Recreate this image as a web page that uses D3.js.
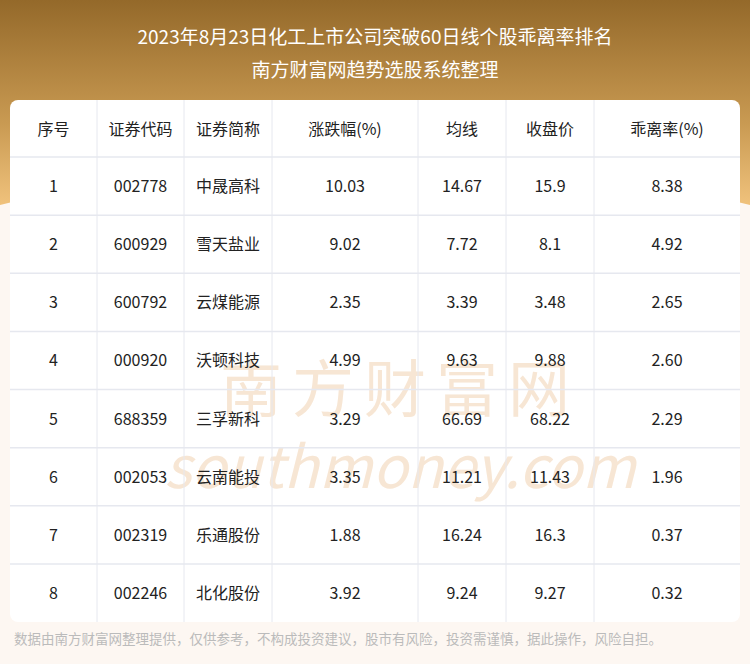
<!DOCTYPE html>
<html><head><meta charset="utf-8">
<script src="https://cdn.jsdelivr.net/npm/d3@7"></script>
<style>body{margin:0;background:#fdf7f2;}svg{display:block;font-family:"Noto Sans CJK SC","Noto Sans",sans-serif;}</style>
</head><body>
<svg id="chart"></svg>
<script>
var headers = ["序号", "证券代码", "证券简称", "涨跌幅(%)", "均线", "收盘价", "乖离率(%)"];
var ranks = ["1", "2", "3", "4", "5", "6", "7", "8"];
var codes = ["002778", "600929", "600792", "000920", "688359", "002053", "002319", "002246"];
var names = ["中晟高科", "雪天盐业", "云煤能源", "沃顿科技", "三孚新科", "云南能投", "乐通股份", "北化股份"];
var changes = ["10.03", "9.02", "2.35", "4.99", "3.29", "3.35", "1.88", "3.92"];
var avgLine = ["14.67", "7.72", "3.39", "9.63", "66.69", "11.21", "16.24", "9.24"];
var closes = ["15.9", "8.1", "3.48", "9.88", "68.22", "11.43", "16.3", "9.27"];
var bias = ["8.38", "4.92", "2.65", "2.60", "2.29", "1.96", "0.37", "0.32"];

var width = 750, height = 664;
var colEdges = [10, 97, 184, 272, 418, 506, 594, 740];
var tableTop = 100, headH = 57, tableBottom = 622;

var svg = d3.select("#chart").attr("width", width).attr("height", height);
var defs = svg.append("defs");
var grad = defs.append("linearGradient").attr("id", "bg").attr("x1", 0).attr("y1", 0).attr("x2", 0).attr("y2", 1);
grad.append("stop").attr("offset", "0%").attr("stop-color", "#94692a");
grad.append("stop").attr("offset", "60%").attr("stop-color", "#c99a52");
grad.append("stop").attr("offset", "100%").attr("stop-color", "#f0c27c");

svg.append("rect").attr("width", width).attr("height", height).attr("fill", "#fdf7f2");
svg.append("path")
    .attr("d", "M0,0 H750 V205 Q375,110 0,205 Z")
    .attr("fill", "url(#bg)");

svg.append("text").attr("x", width / 2).attr("y", 44).attr("text-anchor", "middle")
    .attr("fill", "#fff").attr("font-size", 19).text("2023年8月23日化工上市公司突破60日线个股乖离率排名");
svg.append("text").attr("x", width / 2).attr("y", 77).attr("text-anchor", "middle")
    .attr("fill", "#fff").attr("font-size", 19).text("南方财富网趋势选股系统整理");

svg.append("rect").attr("x", 10).attr("y", tableTop).attr("width", 730).attr("height", tableBottom - tableTop)
    .attr("rx", 8).attr("fill", "#fff");

// watermark
svg.append("text").attr("x", 400).attr("y", 412).attr("text-anchor", "middle")
    .attr("fill", "#f7e6d4").attr("font-size", 62).attr("letter-spacing", 10).text("南方财富网");
svg.append("text").attr("x", 400).attr("y", 488).attr("text-anchor", "middle")
    .attr("fill", "#f7e6d4").attr("font-size", 58).attr("font-style", "italic").text("southmoney.com");

var rows = d3.range(ranks.length).map(function (i) {
    return [ranks[i], codes[i], names[i], changes[i], avgLine[i], closes[i], bias[i]];
});

var y = d3.scaleBand().domain(d3.range(rows.length)).range([tableTop + headH, tableBottom]);
var g = svg.append("g");

// grid lines
g.selectAll("line.h").data(d3.range(rows.length)).enter().append("line")
    .attr("x1", 10).attr("x2", 740)
    .attr("y1", function (i) { return y(i); }).attr("y2", function (i) { return y(i); })
    .attr("stroke", "#e6e8ef").attr("stroke-width", 1.5);
g.selectAll("line.v").data(colEdges.slice(1, -1)).enter().append("line")
    .attr("x1", function (d) { return d; }).attr("x2", function (d) { return d; })
    .attr("y1", tableTop).attr("y2", tableBottom)
    .attr("stroke", "#e6e8ef").attr("stroke-width", 1);

function cx(j) { return (colEdges[j] + colEdges[j + 1]) / 2; }

g.selectAll("text.head").data(headers).enter().append("text")
    .attr("x", function (d, j) { return cx(j); })
    .attr("y", tableTop + headH / 2 + 6)
    .attr("text-anchor", "middle").attr("font-size", 16).attr("fill", "#222")
    .text(function (d) { return d; });

rows.forEach(function (r, i) {
    g.selectAll(null).data(r).enter().append("text")
        .attr("x", function (d, j) { return cx(j); })
        .attr("y", y(i) + y.bandwidth() / 2 + 6)
        .attr("text-anchor", "middle").attr("font-size", 16).attr("fill", "#222")
        .text(function (d) { return d; });
});

svg.append("text").attr("x", 14).attr("y", 644).attr("fill", "#bbb").attr("font-size", 13.5)
    .text("数据由南方财富网整理提供，仅供参考，不构成投资建议，股市有风险，投资需谨慎，据此操作，风险自担。");
</script>
</body></html>
